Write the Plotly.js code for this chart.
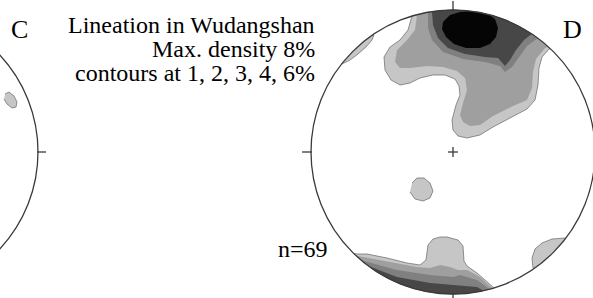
<!DOCTYPE html>
<html>
<head>
<meta charset="utf-8">
<script src="https://cdn.plot.ly/plotly-3.0.1.min.js"></script>
<style>html,body{margin:0;padding:0;background:#fff;}#chart{width:593px;height:298px;}</style>
</head>
<body>
<div id="chart"></div>
<script>
// Contour outlines (plot units = reference pixels)
// Level >=1% (light grey)
const l1TopX = [412,410,408,400,390,384,385,391,400,410,420,433,445,455,459,460,456,452,453,458,467,480,493,510,527,535,538,539,542,550,565,560,420,402];
const l1TopY = [16,22,30,40,47,57,70,80,85,83,78,75,75,79,86,95,105,120,130,136,138,135,127,118,109,100,85,68,57,48,45,0,0,6];
const l1NwX = [342,350,358,366,372,374,365,335];
const l1NwY = [64,60,54,47,40,35,30,60];
const l1CenX = [412,417,424,430,433,430,423,415,410];
const l1CenY = [183,178,178,183,191,198,201,199,192];
const l1SeX = [533,532,535,542,552,565,580,545];
const l1SeY = [268,258,249,243,239,238,250,285];
const l1BotX = [352,357,367,387,407,420,426,428,433,440,447,458,463,464,467,477,485,494,510,340,338];
const l1BotY = [253,254,254,258,263,265,260,245,239,237,237,240,246,261,266,273,280,288,300,300,250];
// Level >=2%
const l2TopX = [417,415,407,397,395,400,410,427,443,457,465,467,463,460,463,470,480,493,513,527,532,533,536,545,560,560,425,412];
const l2TopY = [15,30,40,50,62,68,68,66,67,71,78,90,103,115,122,126,125,116,106,100,88,72,59,48,42,0,0,5];
const l2BotX = [358,370,390,417,430,440,450,458,467,480,491,505,340,340];
const l2BotY = [256,258,262,267,268,265,267,270,270,277,287,300,300,252];
// Level >=3%
const l3TopX = [428,428,432,443,463,485,500,505,512,519,527,538,545,520,435,424];
const l3TopY = [14,28,40,52,59,62,66,72,67,57,46,38,20,0,0,4];
const l3BotX = [364,375,397,430,453,460,477,488,500,340,340];
const l3BotY = [261,264,270,275,277,275,280,288,300,300,256];
// Level >=4%
const l4TopX = [432,433,438,448,465,485,498,505,510,516,524,533,540,520,440,430];
const l4TopY = [12,25,38,48,54,57,58,66,60,50,40,33,15,0,0,4];
const l4BotX = [371,397,430,457,477,484,495,340,340];
const l4BotY = [267,277,283,285,287,291,300,300,260];
// Level >=6% (maximum)
const l6X = [443,450,460,474,487,495,498,496,490,480,466,454,446,442];
const l6Y = [22,15,12,11,13,19,28,37,44,48,48,44,37,29];
// Panel C remnant
const cBlobX = [5,9,14,17,16,12,7,4];
const cBlobY = [94,92,96,102,107,108,104,99];

const levelColors = ['#c6c6c6','#9f9f9f','#808080','#474747','#050505'];

function poly(x, y, color, edge) {
  return {type:'scatter', mode:'lines', x:x, y:y, fill:'toself', fillcolor:color,
    line:{color: edge ? '#666666' : color, width: edge ? 0.7 : 0}, hoverinfo:'skip'};
}
const traces = [
  poly(l1TopX,l1TopY,levelColors[0],true),
  poly(l1NwX,l1NwY,levelColors[0],true),
  poly(l1CenX,l1CenY,levelColors[0],true),
  poly(l1SeX,l1SeY,levelColors[0],true),
  poly(l1BotX,l1BotY,levelColors[0],true),
  poly(cBlobX,cBlobY,levelColors[0],true),
  poly(l2TopX,l2TopY,levelColors[1],false),
  poly(l2BotX,l2BotY,levelColors[1],false),
  poly(l3TopX,l3TopY,levelColors[2],false),
  poly(l3BotX,l3BotY,levelColors[2],false),
  poly(l4TopX,l4TopY,levelColors[3],false),
  poly(l4BotX,l4BotY,levelColors[3],false),
  poly(l6X,l6Y,levelColors[4],false)
];

// Net geometry
const cx = 453, cy = 152, R = 142;
function ring(r) {
  let s = '';
  const n = 240;
  for (let i = 0; i < n; i++) {
    const a = 2*Math.PI*i/n;
    s += (i===0?'M':'L') + (cx + r*Math.cos(a)).toFixed(2) + ',' + (cy + r*Math.sin(a)).toFixed(2);
  }
  return s + 'Z';
}
const ln = {color:'#3a3a3a', width:1.3};
const shapes = [
  {type:'path', xref:'x', yref:'y', path: ring(R+0.3) + ring(215), fillrule:'evenodd', fillcolor:'#ffffff', line:{width:0}, layer:'above'},
  {type:'circle', xref:'x', yref:'y', x0:cx-R, x1:cx+R, y0:cy-R, y1:cy+R, line:ln, layer:'above'},
  {type:'line', xref:'x', yref:'y', x0:cx, x1:cx, y0:cy-R-9, y1:cy-R+1, line:ln, layer:'above'},
  {type:'line', xref:'x', yref:'y', x0:cx, x1:cx, y0:cy+R-1, y1:cy+R+9, line:ln, layer:'above'},
  {type:'line', xref:'x', yref:'y', x0:cx-R-9, x1:cx-R+1, y0:cy, y1:cy, line:ln, layer:'above'},
  {type:'line', xref:'x', yref:'y', x0:cx-5, x1:cx+5, y0:cy, y1:cy, line:ln, layer:'above'},
  {type:'line', xref:'x', yref:'y', x0:cx, x1:cx, y0:cy-5, y1:cy+5, line:ln, layer:'above'},
  // panel C circle remnant
  {type:'circle', xref:'x', yref:'y', x0:-104-R, x1:-104+R, y0:cy-R, y1:cy+R, line:ln, layer:'above'},
  {type:'line', xref:'x', yref:'y', x0:37, x1:46, y0:cy, y1:cy, line:ln, layer:'above'}
];

const serif = '"Liberation Serif", "Times New Roman", serif';
const tf = {family: serif, size: 24, color:'#000'};
const annotations = [
  {text:'Lineation in Wudangshan', x:317, y:25, xanchor:'right', yanchor:'middle'},
  {text:'Max. density 8%', x:317, y:49, xanchor:'right', yanchor:'middle'},
  {text:'contours at 1, 2, 3, 4, 6%', x:317, y:73, xanchor:'right', yanchor:'middle'},
  {text:'n=69', x:330, y:249, xanchor:'right', yanchor:'middle'},
  {text:'C', x:19, y:29, xanchor:'center', yanchor:'middle', font:{family:serif,size:26,color:'#000'}},
  {text:'D', x:572, y:29, xanchor:'center', yanchor:'middle', font:{family:serif,size:26,color:'#000'}}
].map(a => Object.assign({xref:'x', yref:'y', showarrow:false, font:tf}, a));

const layout = {
  width:593, height:298, margin:{l:0,r:0,t:0,b:0},
  paper_bgcolor:'#fff', plot_bgcolor:'#fff', showlegend:false,
  xaxis:{range:[0,593], visible:false, fixedrange:true},
  yaxis:{range:[298,0], visible:false, fixedrange:true},
  shapes: shapes, annotations: annotations
};
Plotly.newPlot('chart', traces, layout, {staticPlot:true, displayModeBar:false});
</script>
</body>
</html>
